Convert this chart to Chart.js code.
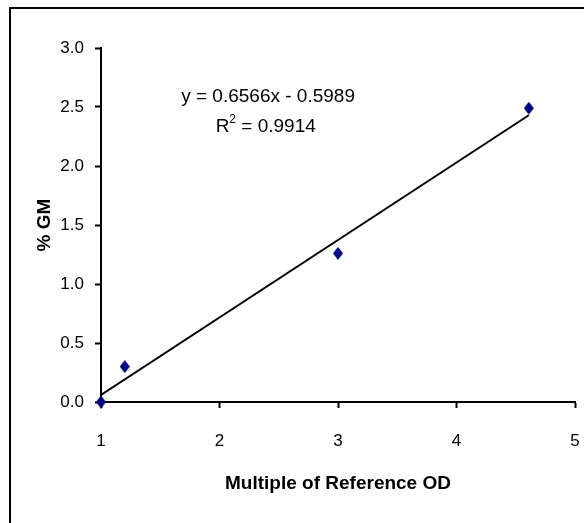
<!DOCTYPE html>
<html>
<head>
  <title>% GM vs Multiple of Reference OD</title>
  <script src="https://cdn.jsdelivr.net/npm/chart.js"></script>
  <style>
    html, body {
      margin: 0;
      padding: 0;
      background: white;
      overflow: hidden;
    }
    .wrap {
      position: absolute;
      left: 0;
      top: 0;
      width: 584px;
      height: 523px;
    }
  </style>
</head>
<body>
  <div class="wrap"><canvas id="chart"></canvas></div>

  <script>
    // measured points
    const odMultiple = [1, 1.2, 3, 4.61];
    const percentGM = [0, 0.3, 1.26, 2.49];

    // linear trendline, ends
    const trendX = [1, 4.61];
    const trendY = [0.06, 2.43];

    const equationText = 'y = 0.6566x - 0.5989';
    const r2Value = '0.9914';

    const xTitle = 'Multiple of Reference OD';
    const yTitle = '% GM';

    const FONT = "'Liberation Sans', Arial, sans-serif";

    // Excel-style diamond marker (taller than wide)
    function makeDiamond(w, h, color) {
      const c = document.createElement('canvas');
      c.width = w;
      c.height = h;
      const g = c.getContext('2d');
      g.fillStyle = color;
      g.beginPath();
      g.moveTo(w / 2, 0);
      g.lineTo(w, h / 2);
      g.lineTo(w / 2, h);
      g.lineTo(0, h / 2);
      g.closePath();
      g.fill();
      return c;
    }

    // chart frame: only the left and top edges fall inside the picture
    const frame = {
      id: 'frame',
      beforeDraw(chart) {
        const ctx = chart.ctx;
        ctx.save();
        ctx.fillStyle = '#000';
        ctx.fillRect(9, 7, 2, chart.height - 7);
        ctx.fillRect(9, 7, chart.width - 9, 2);
        ctx.restore();
      }
    };

    // equation + R squared written on the plot
    const equationLabel = {
      id: 'equationLabel',
      afterDatasetsDraw(chart) {
        const ctx = chart.ctx;
        const x = chart.scales.x;
        const y = chart.scales.y;
        ctx.save();
        ctx.fillStyle = '#000';
        ctx.textBaseline = 'middle';
        ctx.textAlign = 'center';
        ctx.font = '19px ' + FONT;
        ctx.fillText(equationText, x.getPixelForValue(2.41), y.getPixelForValue(2.585));

        // R² with a raised small 2
        const cx = x.getPixelForValue(2.39);
        const cy = y.getPixelForValue(2.33);
        const rest = ' = ' + r2Value;
        const wR = ctx.measureText('R').width;
        const wRest = ctx.measureText(rest).width;
        ctx.font = '12px ' + FONT;
        const w2 = ctx.measureText('2').width;
        const start = cx - (wR + w2 + wRest) / 2;
        ctx.textAlign = 'left';
        ctx.font = '19px ' + FONT;
        ctx.fillText('R', start, cy);
        ctx.fillText(rest, start + wR + w2, cy);
        ctx.font = '12px ' + FONT;
        ctx.fillText('2', start + wR, cy - 7);
        ctx.restore();
      }
    };

    new Chart(document.getElementById('chart').getContext('2d'), {
      type: 'scatter',
      data: {
        datasets: [
          {
            label: 'trend',
            type: 'line',
            data: trendX.map((v, i) => ({ x: v, y: trendY[i] })),
            borderColor: '#000',
            borderWidth: 2,
            pointRadius: 0,
            fill: false,
            order: 2
          },
          {
            label: '% GM',
            data: odMultiple.map((v, i) => ({ x: v, y: percentGM[i] })),
            pointStyle: makeDiamond(10, 13, '#000080'),
            backgroundColor: '#000080',
            borderColor: '#000080',
            clip: false,
            order: 1
          }
        ]
      },
      options: {
        responsive: true,
        maintainAspectRatio: false,
        animation: false,
        layout: { padding: { left: 0, top: 48, right: 9, bottom: 0 } },
        plugins: {
          legend: { display: false },
          tooltip: { enabled: false }
        },
        scales: {
          x: {
            type: 'linear',
            min: 1,
            max: 5,
            // fixed box; tick padding would otherwise also eat into the right side
            afterFit: s => { s.height = 121; s.paddingLeft = 0; s.paddingRight = 5; },
            ticks: {
              stepSize: 1,
              color: '#000',
              padding: 23,
              font: { family: FONT, size: 17 }
            },
            grid: {
              drawOnChartArea: false,
              drawTicks: true,
              tickLength: 6,
              tickColor: '#000',
              tickWidth: 2
            },
            border: { display: true, color: '#000', width: 2 },
            title: {
              display: true,
              text: xTitle,
              color: '#000',
              font: { family: FONT, size: 19, weight: 'bold' },
              padding: { top: 0, bottom: 28 }
            }
          },
          y: {
            min: 0,
            max: 3,
            afterFit: s => { s.width = 101; },
            ticks: {
              stepSize: 0.5,
              color: '#000',
              padding: 11,
              font: { family: FONT, size: 17 },
              callback: v => v.toFixed(1)
            },
            grid: {
              drawOnChartArea: false,
              drawTicks: true,
              tickLength: 6,
              tickColor: '#000',
              tickWidth: 2
            },
            border: { display: true, color: '#000', width: 2 },
            title: {
              display: true,
              text: yTitle,
              color: '#000',
              font: { family: FONT, size: 19, weight: 'bold' },
              padding: { top: 33, bottom: 0 }
            }
          }
        }
      },
      plugins: [frame, equationLabel]
    });
  </script>
</body>
</html>
